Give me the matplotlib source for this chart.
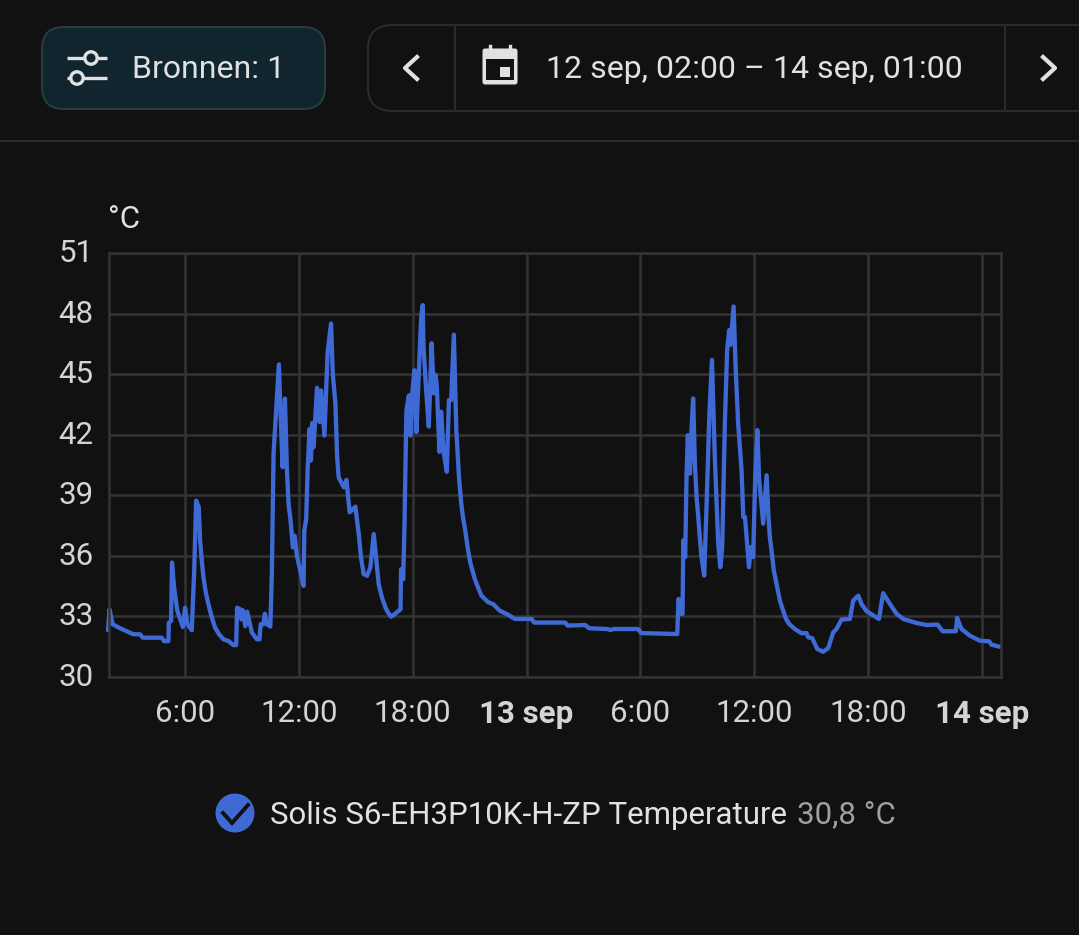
import matplotlib
matplotlib.use("Agg")
import matplotlib.pyplot as plt
from matplotlib.patches import FancyBboxPatch, Circle, Rectangle
from matplotlib.transforms import ScaledTranslation

plt.rcParams['font.family'] = ['Roboto', 'DejaVu Sans']

W, H = 1079, 935
BG = '#111111'
GRID = '#343434'
BLUE = '#3f69d4'
TXT = '#e1e1e1'
SEC = '#a0a0a0'

hours = [1.95,2.03,2.1,2.19,2.58,2.93,3.28,3.64,3.78,4.78,4.9,5.13,5.15,5.27,5.32,5.43,5.6,5.89,6.01,6.13,6.36,6.49,6.59,6.73,6.8,6.98,7.24,7.59,8.03,8.3,8.56,8.7,8.75,8.91,8.98,9.05,9.18,9.28,9.53,9.79,9.93,9.99,10.14,10.21,10.32,10.5,10.58,10.67,10.78,10.95,11.04,11.15,11.27,11.37,11.55,11.69,11.78,11.9,12.25,12.29,12.39,12.47,12.57,12.64,12.71,12.78,12.96,13.1,13.17,13.35,13.45,13.52,13.7,13.79,13.93,14.1,14.37,14.51,14.68,14.98,15.16,15.42,15.6,15.77,15.95,16.21,16.57,16.86,17.0,17.36,17.39,17.5,17.57,17.67,17.8,17.88,17.97,18.09,18.2,18.32,18.45,18.53,
         18.57,18.71,18.85,19.0,19.11,19.2,19.27,19.41,19.5,19.63,19.8,19.91,20.03,20.17,20.3,20.44,20.65,20.92,21.27,21.62,21.98,22.24,22.59,23.04,23.39,24.27,24.4,26.04,26.16,27.1,27.28,28.25,28.42,28.6,29.87,30.05,31.94,
         32.01,32.13,32.22,32.26,32.36,32.43,32.5,32.61,32.68,32.78,32.87,33.05,33.22,33.36,33.49,33.63,33.77,33.92,34.1,34.21,34.31,34.45,34.57,34.68,34.75,34.91,35.03,35.15,35.33,35.42,35.51,35.72,35.82,35.94,36.05,36.16,36.26,36.47,36.65,36.75,36.91,37.17,37.52,37.84,38.14,38.49,38.75,38.84,39.05,39.32,39.63,39.9,40.16,40.33,40.6,41.04,41.21,41.48,41.65,41.92,42.57,42.79,43.15,43.5,43.85,44.55,45.08,45.66,45.92,46.62,46.69,46.92,47.36,47.89,48.38,48.5,48.94]
temps = [32.3,33.34,33.0,32.6,32.4,32.25,32.1,32.1,31.93,31.93,31.76,31.76,32.67,32.76,35.66,34.42,33.26,32.46,33.42,32.6,32.3,35.25,38.73,38.4,36.74,34.91,33.59,32.43,31.85,31.76,31.56,31.56,33.42,33.34,32.84,33.29,32.5,33.22,32.18,31.85,31.85,32.6,32.6,33.12,32.6,32.48,35.08,41.05,42.79,45.49,43.04,40.39,43.79,40.39,37.9,36.41,36.99,36.0,34.5,37.24,37.82,40.39,42.29,40.72,42.58,41.38,44.33,42.63,44.2,41.96,44.37,46.11,47.52,45.03,43.54,39.89,39.39,39.76,38.15,38.43,37.07,35.08,35.0,35.41,37.07,34.58,33.42,32.97,33.06,33.34,35.33,34.83,37.57,43.2,43.95,41.96,43.95,45.2,42.13,45.03,47.85,48.43,
         46.37,44.2,42.4,46.54,44.05,44.97,44.47,41.15,43.14,41.15,40.16,43.72,43.72,46.96,42.23,39.9,37.92,36.26,34.85,34.02,33.69,33.6,33.27,33.06,32.86,32.86,32.68,32.68,32.53,32.56,32.4,32.36,32.31,32.36,32.36,32.16,32.11,
         33.85,33.11,33.11,36.76,35.93,39.9,41.98,40.07,42.06,43.8,40.57,37.92,35.93,35.01,38.58,42.89,45.71,40.9,36.59,35.43,36.42,42.56,46.21,47.2,46.46,48.36,45.05,42.56,40.24,37.92,37.92,35.43,36.42,35.93,39.9,42.23,39.74,37.59,39.99,37.92,36.26,34.6,33.27,32.61,32.36,32.15,32.16,31.95,31.91,31.37,31.23,31.42,32.2,32.36,32.83,32.86,33.77,34.02,33.6,33.24,32.86,34.14,33.6,33.11,32.86,32.66,32.56,32.58,32.25,32.25,32.91,32.36,32.03,31.78,31.75,31.58,31.48]

# further readings along the curved decays
extra_hours = [6.89,7.1,7.42,7.8,11.46,12.08,14.02,15.28,16.39,16.69,20.56,20.77,21.05,21.44,21.79,32.96,33.13,33.27,36.82,37.03,37.35,37.67]
extra_temps = [35.74,34.17,32.92,32.1,38.56,35.25,40.9,35.9,33.9,33.2,38.58,37.25,35.6,34.43,33.86,38.9,36.9,35.6,36.92,35.26,33.77,32.86]

y_ticks = [30, 33, 36, 39, 42, 45, 48, 51]
x_ticks = [6, 12, 18, 24, 30, 36, 42, 48]
x_labels = ['6:00', '12:00', '18:00', '13 sep', '6:00', '12:00', '18:00', '14 sep']
bold_labels = {'13 sep', '14 sep'}

series = sorted(zip(hours + extra_hours, temps + extra_temps))
xs = [p[0] for p in series]
ys = [p[1] for p in series]

fig = plt.figure(figsize=(W / 100, H / 100), dpi=100, facecolor=BG)

ui = fig.add_axes([0, 0, 1, 1], facecolor=BG)
ui.set_xlim(0, W)
ui.set_ylim(H, 0)
ui.axis('off')

ui.add_patch(FancyBboxPatch((42 + 22, 27 + 22), 283 - 44, 82 - 44,
                            boxstyle='round,pad=22', fc='#10252e', ec='#2a3c44', lw=1.4))
ui.plot([67, 107], [58, 58], color=TXT, lw=2.4, solid_capstyle='butt')
ui.plot([67, 107], [78, 78], color=TXT, lw=2.4, solid_capstyle='butt')
ui.add_patch(Circle((91, 58), 6.2, fc='#10252e', ec=TXT, lw=2.4, zorder=3))
ui.add_patch(Circle((77, 78), 6.2, fc='#10252e', ec=TXT, lw=2.4, zorder=3))
ui.text(132, 69, 'Bronnen: 1', color=TXT, fontsize=23, va='center', ha='left')

ui.add_patch(FancyBboxPatch((368 + 24, 25 + 24), 900, 86 - 48,
                            boxstyle='round,pad=24', fc=BG, ec='#2c2c2c', lw=1.4))
ui.plot([455, 455], [25, 111], color='#2c2c2c', lw=1.4)
ui.plot([1005, 1005], [25, 111], color='#2c2c2c', lw=1.4)
ui.plot([417, 405, 417], [57, 68, 79], color=TXT, lw=3)
ui.plot([1043, 1055, 1043], [57, 68, 79], color=TXT, lw=3)
ui.add_patch(FancyBboxPatch((485, 51), 30, 31, boxstyle='round,pad=2.5', fc=TXT, ec='none'))
ui.add_patch(Rectangle((486, 59), 28, 21, fc=BG, ec='none', zorder=3))
ui.add_patch(Rectangle((500, 67), 10, 10, fc=TXT, ec='none', zorder=4))
ui.plot([490, 490], [46, 51], color=TXT, lw=2.4)
ui.plot([510, 510], [46, 51], color=TXT, lw=2.4)
ui.text(546, 69, '12 sep, 02:00 – 14 sep, 01:00', color=TXT, fontsize=23, va='center', ha='left')
ui.plot([0, W], [141, 141], color='#2c2c2c', lw=1.4)

ui.text(108, 220, '°C', color=TXT, fontsize=22.5, va='center', ha='left')

ui.add_patch(Circle((235, 813), 19.5, fc=BLUE, ec='none'))
ui.plot([223, 232, 248], [813, 823, 805], color='#111111', lw=2.8, solid_joinstyle='miter')
ui.text(270, 815, 'Solis S6-EH3P10K-H-ZP Temperature', color=TXT, fontsize=22.5, va='center', ha='left')
ui.text(797, 815, '30,8 °C', color=SEC, fontsize=22.5, va='center', ha='left')

left, right, top, bottom = 109, 1001, 253.3, 676.6
ax = fig.add_axes([left / W, 1 - bottom / H, (right - left) / W, (bottom - top) / H], facecolor='none')
ax.set_xlim(2, 49)
ax.set_ylim(30, 51)
ax.set_yticks(y_ticks)
ax.set_xticks(x_ticks)
ax.set_xticklabels(x_labels)
ax.grid(True, color=GRID, lw=1.8)
ax.set_axisbelow(True)
for s in ax.spines.values():
    s.set_color(GRID)
    s.set_linewidth(1.8)
ax.tick_params(axis='both', length=0, labelcolor='#d4d4d4', labelsize=22.5)
ax.tick_params(axis='x', pad=16)
ax.tick_params(axis='y', pad=11)
shift = ScaledTranslation(0, 2.5 / 100, fig.dpi_scale_trans)
for lab in ax.get_yticklabels():
    lab.set_transform(lab.get_transform() + shift)
for lab in ax.get_xticklabels():
    if lab.get_text() in bold_labels:
        lab.set_fontweight('bold')
ax.plot(xs, ys, color=BLUE, lw=3.1, solid_joinstyle='round', solid_capstyle='round', clip_on=False)

fig.savefig('out.png', dpi=100, facecolor=BG)
